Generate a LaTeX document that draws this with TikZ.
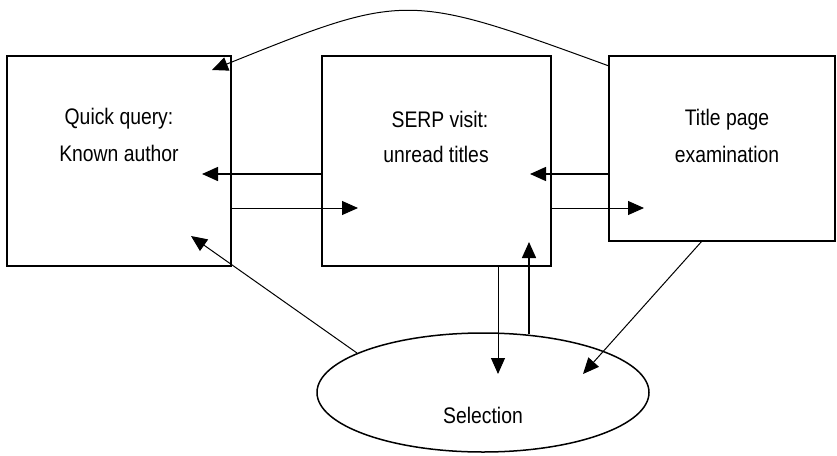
\documentclass[tikz,border=0pt]{standalone}
\usepackage{fontspec}
\setmainfont{Liberation Sans}[FakeStretch=0.86]
\usetikzlibrary{arrows.meta,shapes.geometric}

\tikzset{
  box/.style={draw, line width=1.6pt, rectangle, inner sep=0pt},
  oval/.style={draw, line width=1.5pt, ellipse, inner sep=0pt},
  txt/.style={font=\fontsize{22.5}{27}\selectfont, inner sep=0pt},
  tip/.style={-{Triangle[length=16pt 0,width=14pt 0]}},
  heavy/.style={tip, line width=1.5pt},
  light/.style={tip, line width=1pt}
}

\begin{document}
\begin{tikzpicture}[x=1pt,y=-1pt]
  \useasboundingbox (0,0) rectangle (837,455);

  % stages of the search
  \node[box, minimum width=224pt, minimum height=210pt] (A) at (119,161) {};
  \node[box, minimum width=229pt, minimum height=210pt] (B) at (436.5,161) {};
  \node[box, minimum width=226pt, minimum height=185pt] (C) at (722,148.5) {};
  \node[oval, minimum width=332pt, minimum height=119pt] (S) at (483,392.5) {};

  % stage labels
  \node[txt] (A1) at (119,119) {Quick query:};
  \node[txt] (A2) at (119,153) {Known author};
  \node[txt] (B1) at (440,119) {SERP visit:};
  \node[txt] (B2) at (436,154) {unread titles};
  \node[txt] (C1) at (727,120) {Title page};
  \node[txt] (C2) at (727,154) {examination};
  \node[txt] (S1) at (483,415) {Selection};

  % arrow tips inside the stages
  \coordinate (tAB) at (202,174);
  \coordinate (tBA) at (358,208);
  \coordinate (tCB) at (530,174);
  \coordinate (tBC) at (644,208);
  \coordinate (tSA) at (191,236);
  \coordinate (tBS) at (498,374);
  \coordinate (tSB) at (529,242);
  \coordinate (tCS) at (583,374);
  \coordinate (tCA) at (212,70);

  % points where lines leave the selection oval and the title page box
  \coordinate (sA) at (357,353);
  \coordinate (sB) at (529,334);
  \coordinate (cS) at (702,241);
  \coordinate (cA) at (609,66);

  % moves between the stages
  \draw[heavy] (B.west |- tAB) -- (tAB);
  \draw[light] (A.east |- tBA) -- (tBA);
  \draw[heavy] (C.west |- tCB) -- (tCB);
  \draw[light] (B.east |- tBC) -- (tBC);
  \draw[light] (B.south -| tBS) -- (tBS);
  \draw[heavy] (sB) -- (tSB);
  \draw[light] (sA) -- (tSA);
  \draw[light] (cS) -- (tCS);
  \draw[light] (cA) .. controls (406,-8) .. (tCA);
\end{tikzpicture}
\end{document}
